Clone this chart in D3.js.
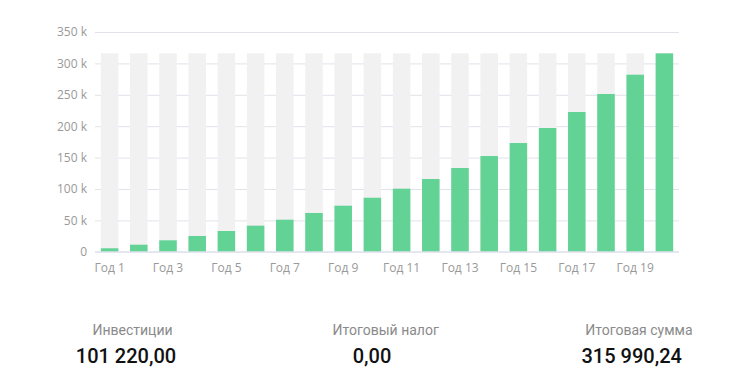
<!DOCTYPE html>
<html>
<head>
<meta charset="utf-8">
<script src="https://cdn.jsdelivr.net/npm/d3@7"></script>
<style>
  body { margin: 0; background: #fff; }
  svg { display: block; }
  .tick text { font-family: "Open Sans", sans-serif; font-size: 12px; fill: #999; }
</style>
</head>
<body>
<div id="chart"></div>
<script>
// Data (values in rubles)
let years = d3.range(1, 21).map(d => "Год " + d);
let totals = [5600, 11300, 18300, 25200, 33100, 41600, 51100, 61800, 73400, 86100,
              100500, 115900, 133400, 152500, 173200, 197100, 222600, 251300, 282000, 315990.24];
let yTicks = [0, 50000, 100000, 150000, 200000, 250000, 300000, 350000];

let summaryLabels = ["Инвестиции", "Итоговый налог", "Итоговая сумма"];
let summaryValues = ["101 220,00", "0,00", "315 990,24"];

let svgWidth = 733;
let svgHeight = 377;

let svg = d3.select("#chart")
    .append("svg")
    .attr("width", svgWidth)
    .attr("height", svgHeight);

// Scales
let xBand = d3.scaleBand()
    .domain(years)
    .range([95, 679])
    .paddingInner(0.4)
    .paddingOuter(0.2);

let yLinearScale = d3.scaleLinear()
    .domain([0, 350000])
    .range([251.8, 32]);

// Grid lines + y labels
let leftAxis = d3.axisLeft(yLinearScale)
    .tickValues(yTicks)
    .tickSize(-(679 - 95))
    .tickPadding(8)
    .tickFormat(d => d === 0 ? "0" : (d / 1000) + " k");

let yAxisG = svg.append("g")
    .attr("transform", "translate(95, 0)")
    .call(leftAxis);
yAxisG.select(".domain").remove();
yAxisG.selectAll(".tick line").attr("stroke", "#e2e2ec");
yAxisG.selectAll(".tick text").attr("fill", "#8c8c8c").attr("x", -8);

// Background bars (full height = max)
let maxVal = d3.max(totals);
svg.append("g").selectAll("rect")
    .data(years)
    .join("rect")
    .attr("x", d => xBand(d))
    .attr("width", xBand.bandwidth())
    .attr("y", yLinearScale(maxVal))
    .attr("height", yLinearScale(0) - yLinearScale(maxVal))
    .attr("fill", "#f1f1f2");

// Value bars
svg.append("g").selectAll("rect")
    .data(totals)
    .join("rect")
    .attr("x", (d, i) => xBand(years[i]))
    .attr("width", xBand.bandwidth())
    .attr("y", d => yLinearScale(d))
    .attr("height", d => yLinearScale(0) - yLinearScale(d))
    .attr("fill", "#62d295");

// Baseline
svg.append("line")
    .attr("x1", 95).attr("x2", 679)
    .attr("y1", yLinearScale(0)).attr("y2", yLinearScale(0))
    .attr("stroke", "#dde2ea");

// X axis labels, every other year
let bottomAxis = d3.axisBottom(xBand)
    .tickValues(years.filter((d, i) => i % 2 === 0))
    .tickSize(0)
    .tickPadding(12);

let xAxisG = svg.append("g")
    .attr("transform", `translate(0, ${yLinearScale(0)})`)
    .call(bottomAxis);
xAxisG.select(".domain").remove();

// Summary block
let summaryX = [[132.5, 126], [385.7, 372], [639, 631.7]];
summaryLabels.forEach((lab, i) => {
    svg.append("text")
        .attr("x", summaryX[i][0])
        .attr("y", 335)
        .attr("text-anchor", "middle")
        .attr("font-family", "Roboto, sans-serif")
        .attr("font-size", 14)
        .attr("fill", "#8a8a8a")
        .text(lab);
    svg.append("text")
        .attr("x", summaryX[i][1])
        .attr("y", 363)
        .attr("text-anchor", "middle")
        .attr("font-family", "Roboto, sans-serif")
        .attr("font-size", 20)
        .attr("font-weight", 500)
        .attr("fill", "#111")
        .text(summaryValues[i]);
});
</script>
</body>
</html>
